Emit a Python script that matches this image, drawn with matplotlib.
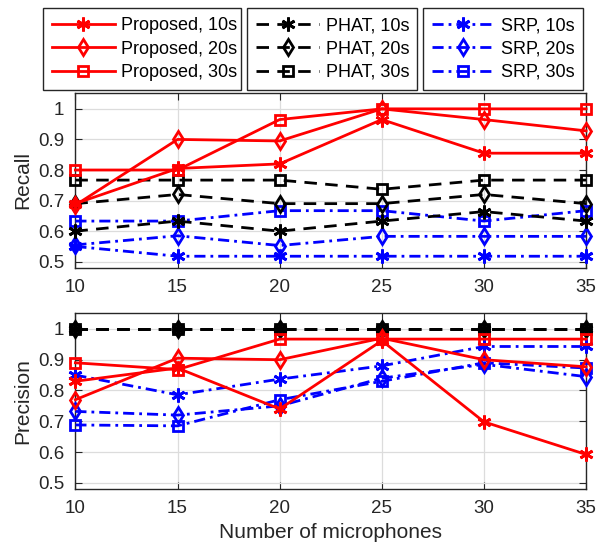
import matplotlib
matplotlib.use("Agg")
import matplotlib.pyplot as plt

plt.rcParams['font.family'] = ['Liberation Sans', 'DejaVu Sans']

mics = [10, 15, 20, 25, 30, 35]

# recall
rec_prop_10 = [0.69, 0.805, 0.82, 0.965, 0.855, 0.855]
rec_prop_20 = [0.685, 0.90, 0.895, 1.0, 0.965, 0.928]
rec_prop_30 = [0.80, 0.80, 0.965, 1.0, 1.0, 1.0]
rec_phat_10 = [0.60, 0.633, 0.60, 0.633, 0.664, 0.633]
rec_phat_20 = [0.69, 0.72, 0.69, 0.69, 0.72, 0.69]
rec_phat_30 = [0.767, 0.767, 0.767, 0.737, 0.767, 0.767]
rec_srp_10 = [0.55, 0.518, 0.518, 0.518, 0.518, 0.518]
rec_srp_20 = [0.555, 0.585, 0.553, 0.583, 0.583, 0.583]
rec_srp_30 = [0.633, 0.633, 0.667, 0.667, 0.633, 0.667]

# precision
pre_prop_10 = [0.83, 0.873, 0.74, 0.962, 0.698, 0.592]
pre_prop_20 = [0.77, 0.905, 0.90, 0.97, 0.90, 0.877]
pre_prop_30 = [0.89, 0.868, 0.967, 0.967, 0.967, 0.967]
pre_phat_10 = [1.0, 1.0, 1.0, 1.0, 1.0, 1.0]
pre_phat_20 = [1.0, 1.0, 1.0, 1.0, 1.0, 1.0]
pre_phat_30 = [1.0, 1.0, 1.0, 1.0, 1.0, 1.0]
pre_srp_10 = [0.85, 0.786, 0.837, 0.88, 0.943, 0.943]
pre_srp_20 = [0.732, 0.72, 0.75, 0.84, 0.885, 0.845]
pre_srp_30 = [0.688, 0.685, 0.77, 0.83, 0.89, 0.873]

labels_prop = ["Proposed, 10s", "Proposed, 20s", "Proposed, 30s"]
labels_phat = ["PHAT, 10s", "PHAT, 20s", "PHAT, 30s"]
labels_srp = ["SRP, 10s", "SRP, 20s", "SRP, 30s"]

yticks = [0.5, 0.6, 0.7, 0.8, 0.9, 1.0]
ytick_labels = ["0.5", "0.6", "0.7", "0.8", "0.9", "1"]

markers = [(6, 2, 0), "d", "s"]
msizes = [10, 8, 6.5]
ls_phat = (0, (4.5, 3))
ls_srp = (0, (4, 1.8, 1, 1.8))
txt = "#262626"

fig = plt.figure(figsize=(6.03, 5.5), dpi=100)
ax1 = fig.add_axes([0.125, 0.513, 0.847, 0.318])
ax2 = fig.add_axes([0.125, 0.111, 0.847, 0.320])


def draw(ax, prop, phat, srp):
    handles = {"prop": [], "phat": [], "srp": []}
    for i in range(3):
        h, = ax.plot(mics, srp[i], color="blue", ls=ls_srp, lw=2,
                     marker=markers[i], ms=msizes[i], mfc="none", mew=2,
                     clip_on=False, label=labels_srp[i], zorder=3)
        handles["srp"].append(h)
    for i in range(3):
        h, = ax.plot(mics, phat[i], color="black", ls=ls_phat, lw=2,
                     marker=markers[i], ms=msizes[i], mfc="none", mew=2,
                     clip_on=False, label=labels_phat[i], zorder=4)
        handles["phat"].append(h)
    for i in range(3):
        h, = ax.plot(mics, prop[i], color="red", ls="-", lw=2,
                     marker=markers[i], ms=msizes[i], mfc="none", mew=2,
                     clip_on=False, label=labels_prop[i], zorder=5)
        handles["prop"].append(h)
    ax.set_xlim(10, 35)
    ax.set_ylim(0.48, 1.052)
    ax.set_xticks(mics)
    ax.set_yticks(yticks)
    ax.set_yticklabels(ytick_labels)
    ax.grid(True, color="#dcdcdc", lw=0.9)
    ax.set_axisbelow(True)
    ax.tick_params(direction="in", top=True, right=True, length=5,
                   labelsize=13.5, colors=txt, pad=8)
    for s in ax.spines.values():
        s.set_color(txt)
        s.set_linewidth(1)
    return handles


hnd = draw(ax1, [rec_prop_10, rec_prop_20, rec_prop_30],
           [rec_phat_10, rec_phat_20, rec_phat_30],
           [rec_srp_10, rec_srp_20, rec_srp_30])
draw(ax2, [pre_prop_10, pre_prop_20, pre_prop_30],
     [pre_phat_10, pre_phat_20, pre_phat_30],
     [pre_srp_10, pre_srp_20, pre_srp_30])

ax1.set_ylabel("Recall", fontsize=15, color=txt)
ax2.set_ylabel("Precision", fontsize=15, color=txt)
ax2.set_xlabel("Number of microphones", fontsize=15, color=txt)

boxes = [(0.071, 0.400), (0.410, 0.692), (0.701, 0.967)]
for (x0, x1), key in zip(boxes, ["prop", "phat", "srp"]):
    leg = fig.legend(handles=hnd[key], loc="upper left",
                     bbox_to_anchor=(x0, 0.985, x1 - x0, 0.0), mode="expand",
                     borderaxespad=0, fontsize=13, handlelength=3.5,
                     handletextpad=0.35, borderpad=0.5, labelspacing=0.35,
                     numpoints=1, fancybox=False, framealpha=1, edgecolor=txt)
    leg.get_frame().set_linewidth(1)
    for t in leg.get_texts():
        t.set_color("black")

fig.savefig("out.png", dpi=100)
